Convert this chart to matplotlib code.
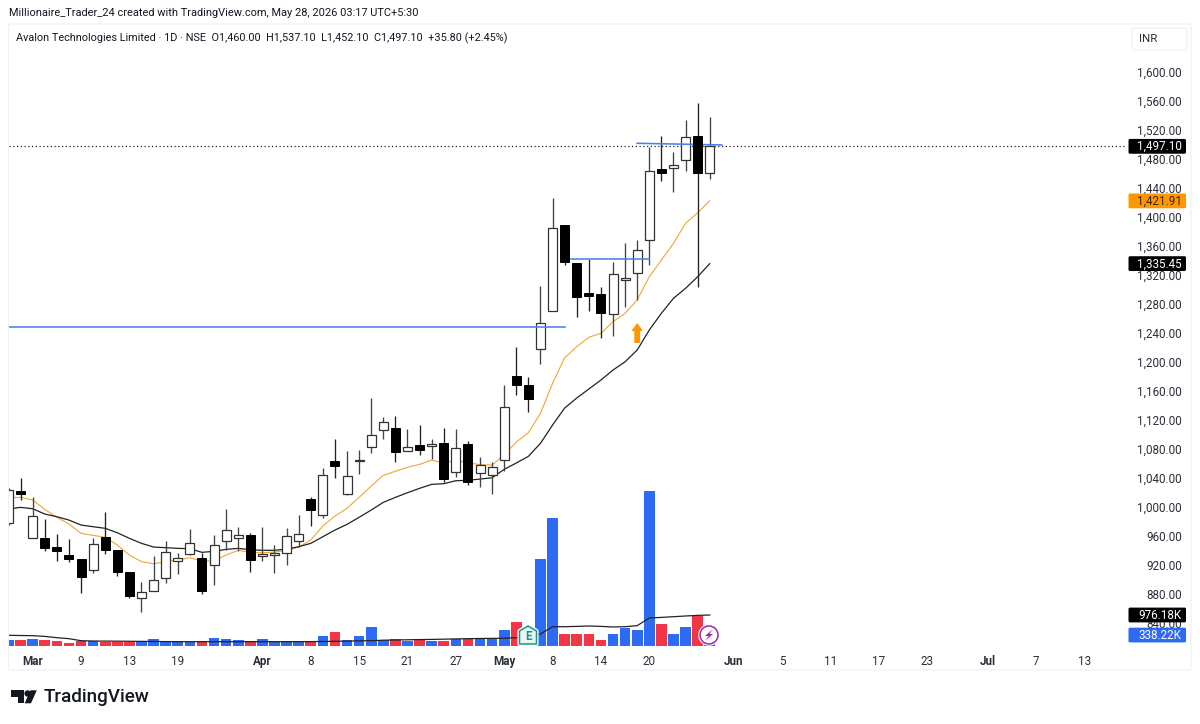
import numpy as np
import matplotlib.pyplot as plt
from matplotlib.patches import Circle, FancyBboxPatch, Polygon

plt.rcParams['font.family'] = ['Roboto', 'DejaVu Sans']

opens = [977.5, 1022.4, 956.8, 957.6, 944.4, 933.4, 927.8, 912.9, 958.1, 940.6,
         910.7, 874.2, 883.9, 901.7, 925.1, 935.9, 930.0, 919.5, 952.7, 956.8,
         961.0, 932.4, 933.7, 936.4, 952.9, 1010.6, 988.5, 1062.9, 1018.3, 1063.2,
         1082.7, 1105.7, 1109.3, 1076.7, 1085.8, 1083.6, 1088.5, 1048.2, 1086.8, 1046.8,
         1044.0, 1064.3, 1180.5, 1168.0, 1217.3, 1270.0, 1388.3, 1336.7, 1295.0, 1293.6,
         1265.6, 1312.9, 1322.0, 1368.0, 1466.3, 1467.7, 1478.7, 1511.8, 1460.0]
highs = [1026.0, 1040.6, 1013.3, 983.0, 962.7, 956.0, 927.8, 957.6, 993.5, 940.6,
         910.7, 896.6, 932.0, 952.8, 936.1, 969.3, 937.0, 962.0, 997.0, 972.0,
         963.7, 973.0, 947.0, 970.7, 989.3, 1013.3, 1053.3, 1093.6, 1077.5, 1078.0,
         1150.0, 1123.7, 1125.8, 1107.0, 1113.0, 1094.0, 1108.4, 1108.0, 1090.5, 1068.4,
         1062.4, 1168.0, 1220.5, 1178.7, 1304.7, 1426.0, 1388.3, 1336.7, 1341.4, 1303.0,
         1337.3, 1363.5, 1368.0, 1496.6, 1511.0, 1489.4, 1533.0, 1556.4, 1537.1]
lows = [975.0, 1009.6, 956.8, 939.3, 925.1, 923.7, 881.0, 909.2, 935.9, 904.8,
        874.4, 854.8, 883.9, 895.0, 907.6, 934.0, 880.0, 892.0, 940.6, 939.6,
        910.0, 925.5, 908.5, 920.0, 945.0, 973.8, 984.8, 1040.0, 1016.5, 1046.0,
        1075.0, 1094.0, 1061.6, 1076.7, 1071.6, 1066.0, 1034.0, 1041.0, 1030.0, 1027.0,
        1017.9, 1050.0, 1155.0, 1130.7, 1197.0, 1270.0, 1334.0, 1262.0, 1269.7, 1233.0,
        1235.6, 1276.0, 1285.3, 1333.5, 1450.0, 1434.6, 1463.5, 1303.6, 1452.1]
closes = [1023.4, 1017.5, 988.0, 943.9, 939.8, 928.7, 903.4, 949.2, 941.0, 910.7,
          877.6, 883.3, 899.1, 938.3, 929.2, 949.7, 884.0, 947.5, 968.2, 961.3,
          926.5, 934.7, 936.0, 960.5, 963.0, 995.8, 1044.5, 1056.5, 1042.7, 1065.0,
          1099.6, 1116.8, 1075.8, 1082.2, 1078.0, 1086.8, 1038.5, 1080.9, 1034.8, 1057.4,
          1055.5, 1137.8, 1168.0, 1149.0, 1254.0, 1385.0, 1338.0, 1289.4, 1290.4, 1267.4,
          1321.0, 1315.2, 1354.0, 1462.7, 1460.4, 1471.0, 1509.6, 1460.0, 1497.1]

ema_fast = [1012.8, 1013.3, 1009.6, 996.8, 985.8, 976.5, 963.7, 960.9, 958.2, 947.6,
            933.8, 924.6, 921.8, 924.6, 926.9, 930.1, 925.5, 925.9, 933.8, 940.3,
            937.5, 937.0, 937.9, 940.0, 944.8, 954.5, 973.8, 987.5, 998.2, 1013.3,
            1028.9, 1043.6, 1049.2, 1054.7, 1058.8, 1064.7, 1060.6, 1064.3, 1061.0, 1058.3,
            1057.8, 1072.0, 1089.5, 1102.4, 1129.1, 1170.5, 1205.7, 1220.9, 1233.9, 1239.4,
            1255.4, 1267.0, 1285.3, 1317.4, 1340.4, 1363.4, 1391.0, 1405.6, 1421.91]
ema_slow = [997.2, 999.5, 997.6, 990.3, 986.6, 982.0, 975.1, 972.8, 970.6, 964.5,
            956.8, 949.9, 944.8, 943.9, 943.0, 942.5, 937.5, 938.9, 941.6, 943.0,
            941.1, 940.3, 940.3, 942.0, 945.2, 949.9, 959.0, 968.2, 976.1, 985.8,
            995.8, 1006.4, 1013.3, 1019.7, 1025.7, 1031.2, 1032.1, 1036.2, 1036.8, 1038.5,
            1040.3, 1051.9, 1060.6, 1069.8, 1087.8, 1113.0, 1136.4, 1150.2, 1162.6, 1175.0,
            1188.8, 1200.2, 1216.4, 1243.9, 1267.0, 1287.6, 1301.4, 1317.4, 1335.45]

# volume in thousands
volume = [191, 181, 213, 181, 137, 95, 137, 137, 127, 127,
          127, 118, 223, 149, 149, 105, 149, 245, 213, 169,
          159, 223, 137, 149, 149, 159, 296, 423, 169, 308,
          595, 191, 213, 149, 213, 137, 149, 200, 200, 223,
          223, 509, 763, 223, 2744, 4070, 382, 382, 359, 181,
          359, 572, 509, 4929, 690, 359, 604, 944, 338.22]
volume_ma = [331, 324, 318, 296, 254, 223, 159, 149, 146, 143,
             140, 137, 134, 131, 127, 127, 127, 127, 127, 127,
             127, 127, 127, 127, 127, 130, 134, 140, 146, 153,
             159, 175, 181, 188, 194, 200, 207, 216, 223, 229,
             232, 238, 254, 267, 372, 604, 604, 614, 626, 614,
             595, 604, 636, 881, 900, 922, 944, 964, 976.18]

price_ticks = list(range(840, 1601, 40))
time_ticks = [2, 6, 10, 14, 21, 25, 29, 33, 37, 41, 45, 49, 53, 60, 64, 68, 72, 76, 81, 85, 89]
time_labels = ['Mar', '9', '13', '19', 'Apr', '8', '15', '21', '27', 'May', '8', '14', '20',
               'Jun', '5', '11', '17', '23', 'Jul', '7', '13']
months = ['Mar', 'Apr', 'May', 'Jun', 'Jul']

# start bar, end bar, start price, end price
levels = [(0, 46, 1248, 1248), (46.5, 53, 1342, 1342), (52, 59, 1501.3, 1499)]

BLUE = '#2e6bf5'
RED = '#f23645'
ORANGE = '#ff9800'
TEXT = '#2a2e39'

fig = plt.figure(figsize=(12, 7.24), dpi=100)
rect = [8.5 / 1200, 1 - 650 / 724, (1127 - 8.5) / 1200, (650 - 24) / 724]

vol = fig.add_axes(rect, zorder=1)
ax = fig.add_axes(rect, zorder=2)
ov = fig.add_axes([0, 0, 1, 1], zorder=3)
ov.set_xlim(0, 1200)
ov.set_ylim(724, 0)
ov.axis('off')
ov.patch.set_alpha(0)
ax.patch.set_alpha(0)

x = np.arange(len(opens))
o, h, l, c = map(np.array, (opens, highs, lows, closes))
up = c >= o

# volume pane shares the pixels of the price pane
vol.bar(x, volume, width=0.88, color=[BLUE if u else RED for u in up], linewidth=0)
vol.plot(x, volume_ma, color='#222222', lw=0.9)
vol.set_xlim(0, 92.51)
vol.set_ylim(-137, 19770)
vol.axis('off')

ax.plot(x, ema_fast, color='#f2a634', lw=0.8, zorder=2)
ax.plot(x, ema_slow, color='#222222', lw=0.9, zorder=2)
ax.vlines(x, l, h, color=['#444444' if u else '#222222' for u in up], lw=0.95, zorder=3)
ax.bar(x[up], (c - o)[up], bottom=o[up], width=0.74, facecolor='white', edgecolor='#333333',
       linewidth=0.9, zorder=4)
for x0, x1, y0, y1 in levels:
    ax.plot([x0, x1], [y0, y1], color='#4f7dec', lw=1.15, zorder=5)
ax.bar(x[~up], (o - c)[~up], bottom=c[~up], width=0.74, facecolor='black', edgecolor='black',
       linewidth=0.7, zorder=6)

ax.axhline(closes[-1], color='#222222', lw=0.9, ls=(0, (1, 2)), zorder=1)
ax.annotate('', xy=(52, 1252), xytext=(52, 1227),
            arrowprops=dict(width=3.2, headwidth=6.6, headlength=4.5, color=ORANGE, shrink=0))

ax.set_xlim(0, 92.51)
ax.set_ylim(802.9, 1665.7)
for side in ax.spines.values():
    side.set_visible(False)
ax.yaxis.tick_right()
ax.set_yticks(price_ticks)
ax.set_yticklabels(['{:,.2f}'.format(p) for p in price_ticks], ha='right')
ax.tick_params(axis='y', length=0, pad=39.4, labelsize=8.4, labelcolor=TEXT)
ax.set_xticks(time_ticks)
ax.set_xticklabels(time_labels)
ax.tick_params(axis='x', length=0, pad=3.5, labelsize=8.4, labelcolor=TEXT)
for lab in ax.get_xticklabels():
    if lab.get_text() in months:
        lab.set_fontweight('bold')

# frame and header
ov.add_patch(FancyBboxPatch((8.5, 24), 1182.5, 646, boxstyle='round,pad=0,rounding_size=2',
                            fc='none', ec='#eef0f4', lw=0.8))
ov.text(9, 13.5, 'Millionaire_Trader_24 created with TradingView.com, May 28, 2026 03:17 UTC+5:30',
        fontsize=7.9, color='#131722', va='center')
ov.text(15.5, 38, 'Avalon Technologies Limited · 1D · NSE  O1,460.00  H1,537.10  L1,452.10  C1,497.10  +35.80 (+2.45%)',
        fontsize=7.8, color='#131722', va='center')
ov.add_patch(FancyBboxPatch((1132, 28), 55, 22, boxstyle='round,pad=0,rounding_size=2',
                            fc='white', ec='#eef0f4', lw=0.8))
ov.text(1139, 39, 'INR', fontsize=8.2, color=TEXT, va='center')


def tag(axes, value, text, bg, fg, x0=1128.5, w=57.5):
    # tag sits at the pixel height of the value on its own axes
    yp = 724 - axes.transData.transform((0, value))[1]
    ov.add_patch(FancyBboxPatch((x0, yp - 7.4), w, 14.8, boxstyle='round,pad=0,rounding_size=1.5',
                                fc=bg, ec='none'))
    ov.text(1181.7, yp + 0.2, text, color=fg, fontsize=8.4, ha='right', va='center')


tag(ax, closes[-1], '{:,.2f}'.format(closes[-1]), 'black', 'white')
tag(ax, ema_fast[-1], '{:,.2f}'.format(ema_fast[-1]), ORANGE, '#3b2500')
tag(ax, ema_slow[-1], '{:,.2f}'.format(ema_slow[-1]), 'black', 'white')
tag(vol, volume_ma[-1], '{:.2f}K'.format(volume_ma[-1]), 'black', 'white')
tag(vol, volume[-1], '{:.2f}K'.format(volume[-1]), BLUE, 'white')

# earnings badge
badge = [(519.5, 631), (528, 626), (536.5, 631), (536.5, 644), (519.5, 644)]
ov.add_patch(Polygon(badge, closed=True, fc='white', ec='white', lw=3, joinstyle='round'))
ov.add_patch(Polygon(badge, closed=True, fc='#e9f6f3', ec='#16988a', lw=1.1, joinstyle='round'))
ov.text(528, 636, 'E', color='#16988a', fontsize=8.4, fontweight='bold', ha='center', va='center')

# dividend style badge with a bolt
ov.add_patch(Circle((709, 635), 10.8, fc='white', ec='none'))
ov.add_patch(Circle((709, 635), 9, fc='white', ec='#9c27b0', lw=1.1))
bolt = [(712.5, 629.5), (705, 636), (708.5, 636), (705.5, 640.5), (713, 634), (709.5, 634)]
ov.add_patch(Polygon(bolt, closed=True, fc='#9c27b0', ec='none'))

# TradingView logo
ov.add_patch(Polygon([(10.7, 690.3), (24, 690.3), (24, 703.3), (17.6, 703.3), (17.6, 696.8), (10.7, 696.8)],
                     closed=True, fc='#131722', ec='none'))
ov.add_patch(Circle((27.6, 693.5), 3.2, fc='#131722', ec='none'))
ov.add_patch(Polygon([(30.5, 690.3), (36.8, 690.3), (31, 703.3), (24.6, 703.3)],
                     closed=True, fc='#131722', ec='none'))
ov.text(44, 697, 'TradingView', fontsize=13.6, fontweight='medium', color='#131722', va='center')

fig.savefig('out.png', dpi=100)
